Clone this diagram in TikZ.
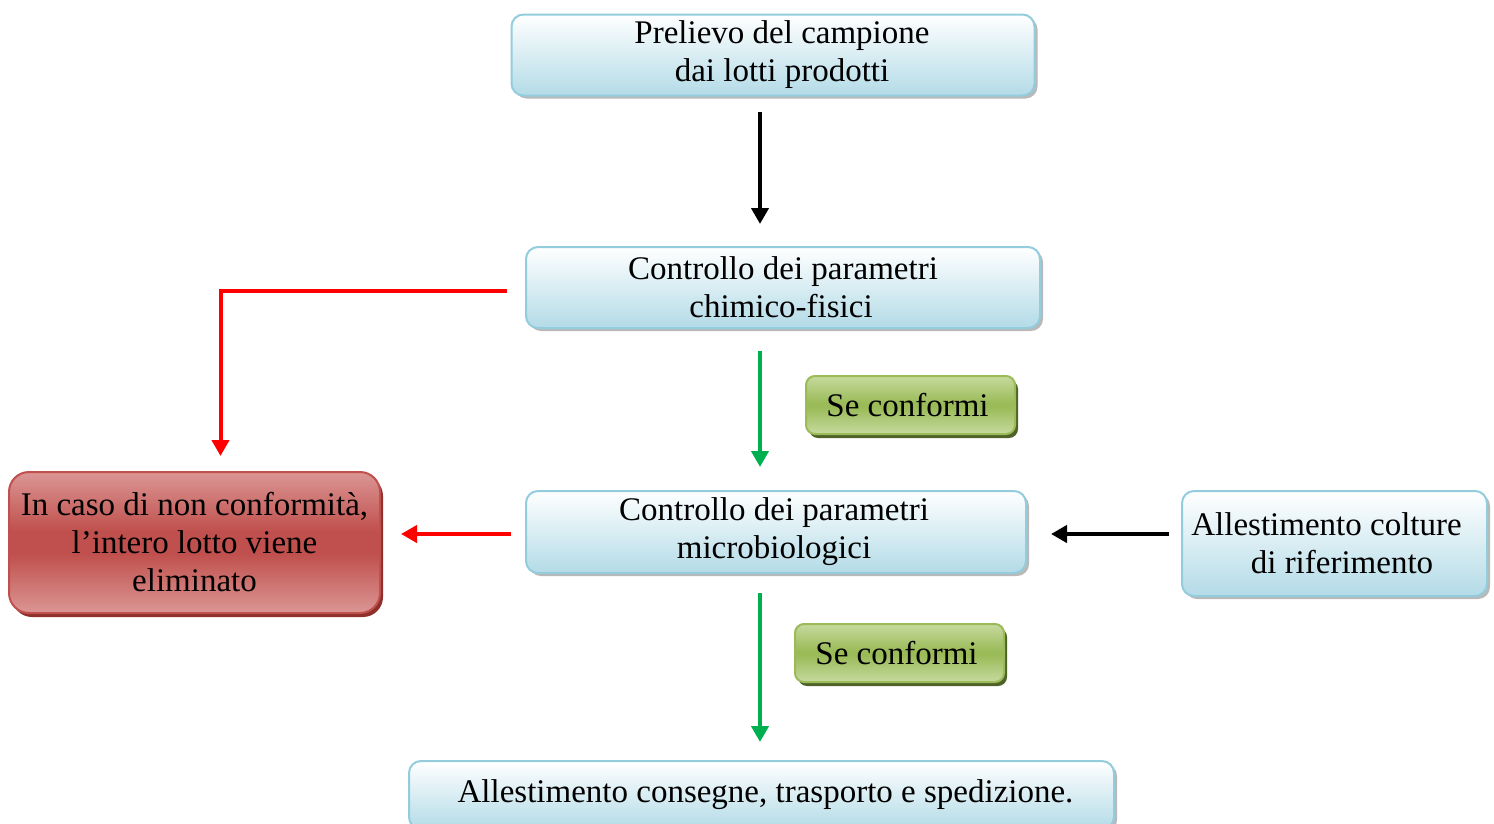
\documentclass[tikz,border=0pt]{standalone}
\usepackage{fontspec}
\setmainfont{Liberation Serif}
\usetikzlibrary{arrows.meta,shadows}

\definecolor{bordoblu}{HTML}{93CDDD}
\definecolor{fondoblu}{HTML}{B3DBE7}
\definecolor{rossochiaro}{HTML}{DB9694}
\definecolor{rossoscuro}{HTML}{C0504D}
\definecolor{rossoombra}{HTML}{8E2F2C}
\definecolor{verdechiaro}{HTML}{C6DA9E}
\definecolor{verdescuro}{HTML}{9BBB59}
\definecolor{verdeombra}{HTML}{4F6228}
\definecolor{freccia verde}{HTML}{00B050}

% sfumature a tre bande (chiaro - scuro - chiaro)
\pgfdeclareverticalshading{sfumarossa}{100bp}{color(0bp)=(rossochiaro); color(25bp)=(rossochiaro);
  color(46bp)=(rossoscuro); color(54bp)=(rossoscuro); color(75bp)=(rossochiaro); color(100bp)=(rossochiaro)}
\pgfdeclareverticalshading{sfumaverde}{100bp}{color(0bp)=(verdechiaro); color(25bp)=(verdechiaro);
  color(48bp)=(verdescuro); color(52bp)=(verdescuro); color(75bp)=(verdechiaro); color(100bp)=(verdechiaro)}

\tikzset{
  testo/.style={font=\fontsize{33}{38}\selectfont, align=center, inner sep=0pt},
  blubox/.style={testo, draw=bordoblu, line width=2pt, rounded corners=12pt,
    top color=white, bottom color=fondoblu,
    drop shadow={shadow xshift=3pt, shadow yshift=-3pt, fill=gray!55, opacity=1}},
  rossobox/.style={testo, draw=rossoscuro, line width=2pt, rounded corners=20pt,
    shading=sfumarossa,
    drop shadow={shadow xshift=3pt, shadow yshift=-4pt, fill=rossoombra, opacity=1}},
  verdebox/.style={testo, draw=verdescuro, line width=2pt, rounded corners=9pt,
    shading=sfumaverde,
    drop shadow={shadow xshift=3pt, shadow yshift=-4pt, fill=verdeombra, opacity=1}},
  freccia/.style={line width=4pt, -{Triangle[width=17pt,length=16pt]}},
}

\begin{document}
\begin{tikzpicture}[x=1pt,y=-1pt]
  \useasboundingbox (0,0) rectangle (1494,823);

  \coordinate (asse) at (760,0);

  % caselle
  \node[blubox, minimum width=523pt, minimum height=81pt] (prelievo) at (773,55)
    {\hspace*{18pt}Prelievo del campione\\\hspace*{18pt}dai lotti prodotti};
  \node[blubox, minimum width=514pt, minimum height=81pt] (chimico) at (783,287.5)
    {Controllo dei parametri\\chimico-fisici\hspace*{4pt}};
  \node[verdebox, minimum width=209pt, minimum height=58pt] (conforme1) at (910.5,405)
    {Se conformi\hspace*{6pt}};
  \node[blubox, minimum width=500pt, minimum height=82pt] (micro) at (776,532)
    {Controllo dei parametri\hspace*{4pt}\\microbiologici\hspace*{4pt}};
  \node[rossobox, minimum width=371pt, minimum height=141pt] (scarto) at (194.5,542.5)
    {In caso di non conformità,\\l’intero lotto viene\\eliminato};
  \node[blubox, minimum width=305pt, minimum height=105pt] (colture) at (1334.5,543.5)
    {Allestimento colture\hspace*{16pt}\\\hspace*{15pt}di riferimento};
  \node[verdebox, minimum width=209pt, minimum height=58pt] (conforme2) at (899.5,653)
    {Se conformi\hspace*{6pt}};
  \node[blubox, minimum width=705pt, minimum height=68pt] (consegne) at (761.5,795)
    {\hspace*{8pt}Allestimento consegne, trasporto e spedizione.};

  % frecce
  \draw[freccia, black, shorten <=15pt, shorten >=22pt]
    (prelievo.south -| asse) -- (chimico.north -| asse);
  \draw[freccia, freccia verde, shorten <=22pt, shorten >=23pt]
    (chimico.south -| asse) -- (micro.north -| asse);
  \draw[freccia, freccia verde, shorten <=19pt, shorten >=18pt]
    (micro.south -| asse) -- (consegne.north -| asse);
  \draw[freccia, red, shorten <=18pt, shorten >=15pt]
    ([yshift=-3pt]chimico.west) -| ([xshift=26pt]scarto.north);
  \draw[freccia, red, shorten <=14pt, shorten >=20pt]
    ([yshift=-2pt]micro.west) -- ([yshift=-2pt]micro.west -| scarto.east);
  \draw[freccia, black, shorten <=12pt, shorten >=24pt]
    ([yshift=-2pt]micro.east -| colture.west) -- ([yshift=-2pt]micro.east);
\end{tikzpicture}
\end{document}
